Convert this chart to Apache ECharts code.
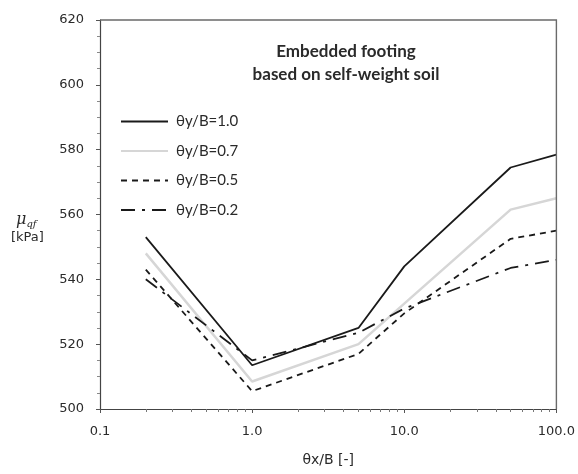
<!DOCTYPE html>
<html>
<head>
<meta charset="utf-8">
<script src="https://cdn.jsdelivr.net/npm/echarts@6/dist/echarts.min.js"></script>
<style>
  html, body { margin: 0; padding: 0; background: #fff; }
  #chart { width: 578px; height: 474px; }
</style>
</head>
<body>
<div id="chart"></div>
<script>
// θx/B values (log scale)
const xValues = [0.2, 1.0, 5.0, 10.0, 50.0, 100.0];

// mean bearing capacity μqf [kPa] per θy/B
const seriesNames = ['θy/B=1.0', 'θy/B=0.7', 'θy/B=0.5', 'θy/B=0.2'];
const muTheta10 = [553, 513.5, 525, 544, 574.5, 578.5];
const muTheta07 = [548, 508.5, 520, 532.5, 561.5, 565];
const muTheta05 = [543, 505.5, 517, 529.5, 552.5, 555];
const muTheta02 = [540, 515, 523.5, 531, 543.5, 546];

const xTickLabels = { 0.1: '0.1', 1: '1.0', 10: '10.0', 100: '100.0' };
const X_RANGE = [0.1, 100];
const Y_RANGE = [500, 620];

const FONT = 'Lato, "Open Sans", sans-serif';
const TICK_FONT = '"DejaVu Sans", Verdana, sans-serif';

function pairs(ys) { return xValues.map((x, i) => [x, ys[i]]); }

const chart = echarts.init(document.getElementById('chart'), null, { renderer: 'canvas' });

chart.setOption({
  backgroundColor: '#ffffff',
  animation: false,
  textStyle: { fontFamily: FONT },
  title: {
    text: 'Embedded footing\nbased on self-weight soil',
    left: 341,
    top: 35,
    textAlign: 'center',
    textStyle: { fontFamily: FONT, fontSize: 17, fontWeight: 'bold', color: '#2a2a2a', lineHeight: 23 }
  },
  legend: {
    orient: 'vertical',
    left: 115,
    top: 109,
    itemWidth: 47,
    itemHeight: 14,
    itemGap: 14.5,
    data: seriesNames,
    itemStyle: { opacity: 0 },
    textStyle: { fontFamily: FONT, fontSize: 15, color: '#2a2a2a', padding: [0, 0, 0, 3] }
  },
  grid: { left: 100, right: 20, top: 20, bottom: 65, containLabel: false },
  xAxis: {
    type: 'log',
    logBase: 10,
    min: X_RANGE[0],
    max: X_RANGE[1],
    name: 'θx/B [-]',
    nameLocation: 'middle',
    nameGap: 44,
    nameTextStyle: { fontFamily: TICK_FONT, fontSize: 14, color: '#2a2a2a' },
    axisLine: { show: true, lineStyle: { color: '#444', width: 1.2 } },
    axisTick: { show: true, length: 4, lineStyle: { color: '#555' } },
    minorTick: { show: true, splitNumber: 9, length: 3, lineStyle: { color: '#777' } },
    axisLabel: {
      fontFamily: TICK_FONT, fontSize: 13, color: '#2a2a2a', margin: 16,
      formatter: v => xTickLabels[Math.round(v * 10) / 10] ?? String(v)
    },
    splitLine: { show: false }
  },
  yAxis: {
    type: 'value',
    min: Y_RANGE[0],
    max: Y_RANGE[1],
    interval: 20,
    axisLine: { show: true, lineStyle: { color: '#444', width: 1.2 } },
    axisTick: { show: true, length: 4, lineStyle: { color: '#555' } },
    minorTick: { show: true, splitNumber: 4, length: 3, lineStyle: { color: '#888' } },
    axisLabel: { fontFamily: TICK_FONT, fontSize: 13, color: '#2a2a2a', margin: 16 },
    splitLine: { show: false }
  },
  graphic: [
    {
      type: 'text',
      left: 16, top: 212,
      style: {
        text: '{mu|μ}{sub|qf}',
        rich: {
          mu: { fontFamily: '"DejaVu Serif", serif', fontStyle: 'italic', fontSize: 16, fill: '#2a2a2a' },
          sub: { fontFamily: '"DejaVu Serif", serif', fontStyle: 'italic', fontSize: 10, fill: '#2a2a2a', verticalAlign: 'bottom', padding: [9, 0, 0, 0] }
        }
      }
    },
    {
      type: 'text',
      left: 11, top: 231,
      style: { text: '[kPa]', fontFamily: TICK_FONT, fontSize: 13, fill: '#2a2a2a' }
    }
  ],
  series: [
    {
      name: seriesNames[0], type: 'line', data: pairs(muTheta10),
      symbol: 'none', color: '#1a1a1a',
      lineStyle: { color: '#1a1a1a', width: 1.8, type: 'solid' }
    },
    {
      name: seriesNames[1], type: 'line', data: pairs(muTheta07),
      symbol: 'none', color: '#d6d6d6',
      lineStyle: { color: '#d6d6d6', width: 2.5, type: 'solid' }
    },
    {
      name: seriesNames[2], type: 'line', data: pairs(muTheta05),
      symbol: 'none', color: '#1a1a1a',
      lineStyle: { color: '#1a1a1a', width: 1.8, type: [6, 5] }
    },
    {
      name: seriesNames[3], type: 'line', data: pairs(muTheta02),
      symbol: 'none', color: '#1a1a1a',
      lineStyle: { color: '#1a1a1a', width: 1.8, type: [14, 7, 3, 7] }
    }
  ]
});

// top and right edges of the plot frame, placed through the axis scales
const topLeft = chart.convertToPixel({ gridIndex: 0 }, [X_RANGE[0], Y_RANGE[1]]);
const bottomRight = chart.convertToPixel({ gridIndex: 0 }, [X_RANGE[1], Y_RANGE[0]]);
chart.setOption({
  graphic: [{
    id: 'frame',
    type: 'polyline',
    z: 10,
    shape: { points: [topLeft, [bottomRight[0], topLeft[1]], bottomRight] },
    style: { fill: null, stroke: '#6a6a6a', lineWidth: 1.4 },
    silent: true
  }]
});
</script>
</body>
</html>
